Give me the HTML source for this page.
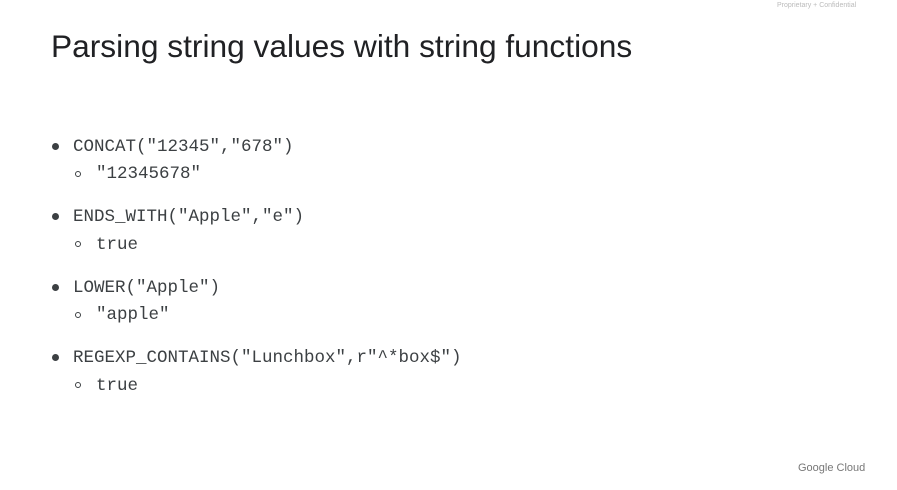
<!DOCTYPE html>
<html><head><style>
body{margin:0;width:897px;height:490px;background:#fff;position:relative;overflow:hidden;font-family:"Liberation Sans",sans-serif}
.t{position:absolute;left:51px;top:28px;font-size:31.7px;color:#202124;white-space:nowrap}
.pc{position:absolute;left:777px;top:2px;font-size:7px;color:#bbb}
.gc{position:absolute;left:798px;top:462px;font-size:11px;color:#777}
.m{position:absolute;left:73px;font-family:"Liberation Mono",monospace;font-size:17.5px;color:#3c4043;white-space:nowrap;line-height:20px}
.s{left:96px}
.b{position:absolute;left:52px;width:7px;height:7px;border-radius:50%;background:#3c4043}
.c{position:absolute;left:75px;width:6px;height:6px;border-radius:50%;border:1px solid #3c4043;box-sizing:border-box}
</style></head><body>
<div class="pc">Proprietary + Confidential</div>
<div class="t">Parsing string values with string functions</div>
<div class="b" style="top:143px"></div><div class="m" style="top:137px">CONCAT("12345","678")</div>
<div class="c" style="top:171px"></div><div class="m s" style="top:164px">"12345678"</div>
<div class="b" style="top:213px"></div><div class="m" style="top:207px">ENDS_WITH("Apple","e")</div>
<div class="c" style="top:241px"></div><div class="m s" style="top:235px">true</div>
<div class="b" style="top:284px"></div><div class="m" style="top:278px">LOWER("Apple")</div>
<div class="c" style="top:312px"></div><div class="m s" style="top:305px">"apple"</div>
<div class="b" style="top:354px"></div><div class="m" style="top:348px">REGEXP_CONTAINS("Lunchbox",r"^*box$")</div>
<div class="c" style="top:382px"></div><div class="m s" style="top:376px">true</div>
<div class="gc">Google Cloud</div>
</body></html>
